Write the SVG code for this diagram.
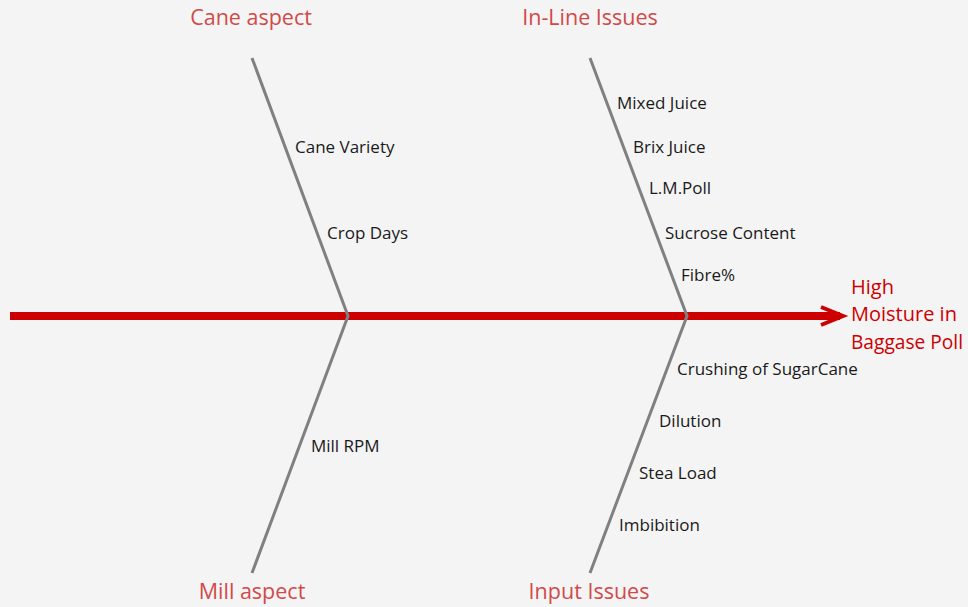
<svg xmlns="http://www.w3.org/2000/svg" width="968" height="607" viewBox="0 0 968 607">
  <style>
    .bone { stroke: #808080; stroke-width: 3; fill: none; }
    .spine { stroke: #CC0000; stroke-width: 8; fill: none; }
    .head { stroke: #CC0000; stroke-width: 4; fill: none; }
    .cat { font-family: "Open Sans", "Noto Sans", sans-serif; font-size: 21.5px; fill: #D04A4A; text-anchor: middle; }
    .cause { font-family: "Open Sans", "Noto Sans", sans-serif; font-size: 17px; fill: #1A1A1A; }
    .effect { font-family: "Open Sans", "Noto Sans", sans-serif; font-size: 20px; fill: #CC0000; }
  </style>
  <rect width="968" height="607" fill="#F4F4F4"/>

  <!-- spine and bones -->
  <g id="connectors">
    <line class="spine" x1="10" y1="316" x2="840" y2="316"/>
    <polyline class="head" points="821,307 843,316 821,325"/>
    <polyline class="bone" points="252,58 348,316 252,573"/>
    <polyline class="bone" points="590,58 687,316 590,573"/>
  </g>

  <g id="cane-aspect">
    <text class="cat" x="251" y="25">Cane aspect</text>
    <text class="cause" x="295" y="153">Cane Variety</text>
    <text class="cause" x="327" y="239">Crop Days</text>
  </g>

  <g id="mill-aspect">
    <text class="cat" x="252" y="599">Mill aspect</text>
    <text class="cause" x="311" y="452">Mill RPM</text>
  </g>

  <g id="in-line-issues">
    <text class="cat" x="590" y="25">In-Line Issues</text>
    <text class="cause" x="617" y="109">Mixed Juice</text>
    <text class="cause" x="633" y="153">Brix Juice</text>
    <text class="cause" x="649" y="194">L.M.Poll</text>
    <text class="cause" x="665" y="239">Sucrose Content</text>
    <text class="cause" x="681" y="281">Fibre%</text>
  </g>

  <g id="input-issues">
    <text class="cat" x="589" y="599">Input Issues</text>
    <text class="cause" x="677" y="375">Crushing of SugarCane</text>
    <text class="cause" x="659" y="427">Dilution</text>
    <text class="cause" x="639" y="479">Stea Load</text>
    <text class="cause" x="619" y="531">Imbibition</text>
  </g>

  <g id="effect">
    <text class="effect" x="851" y="294">High</text>
    <text class="effect" x="851" y="321">Moisture in</text>
    <text class="effect" x="851" y="349" textLength="112" lengthAdjust="spacingAndGlyphs">Baggase Poll</text>
  </g>
</svg>
